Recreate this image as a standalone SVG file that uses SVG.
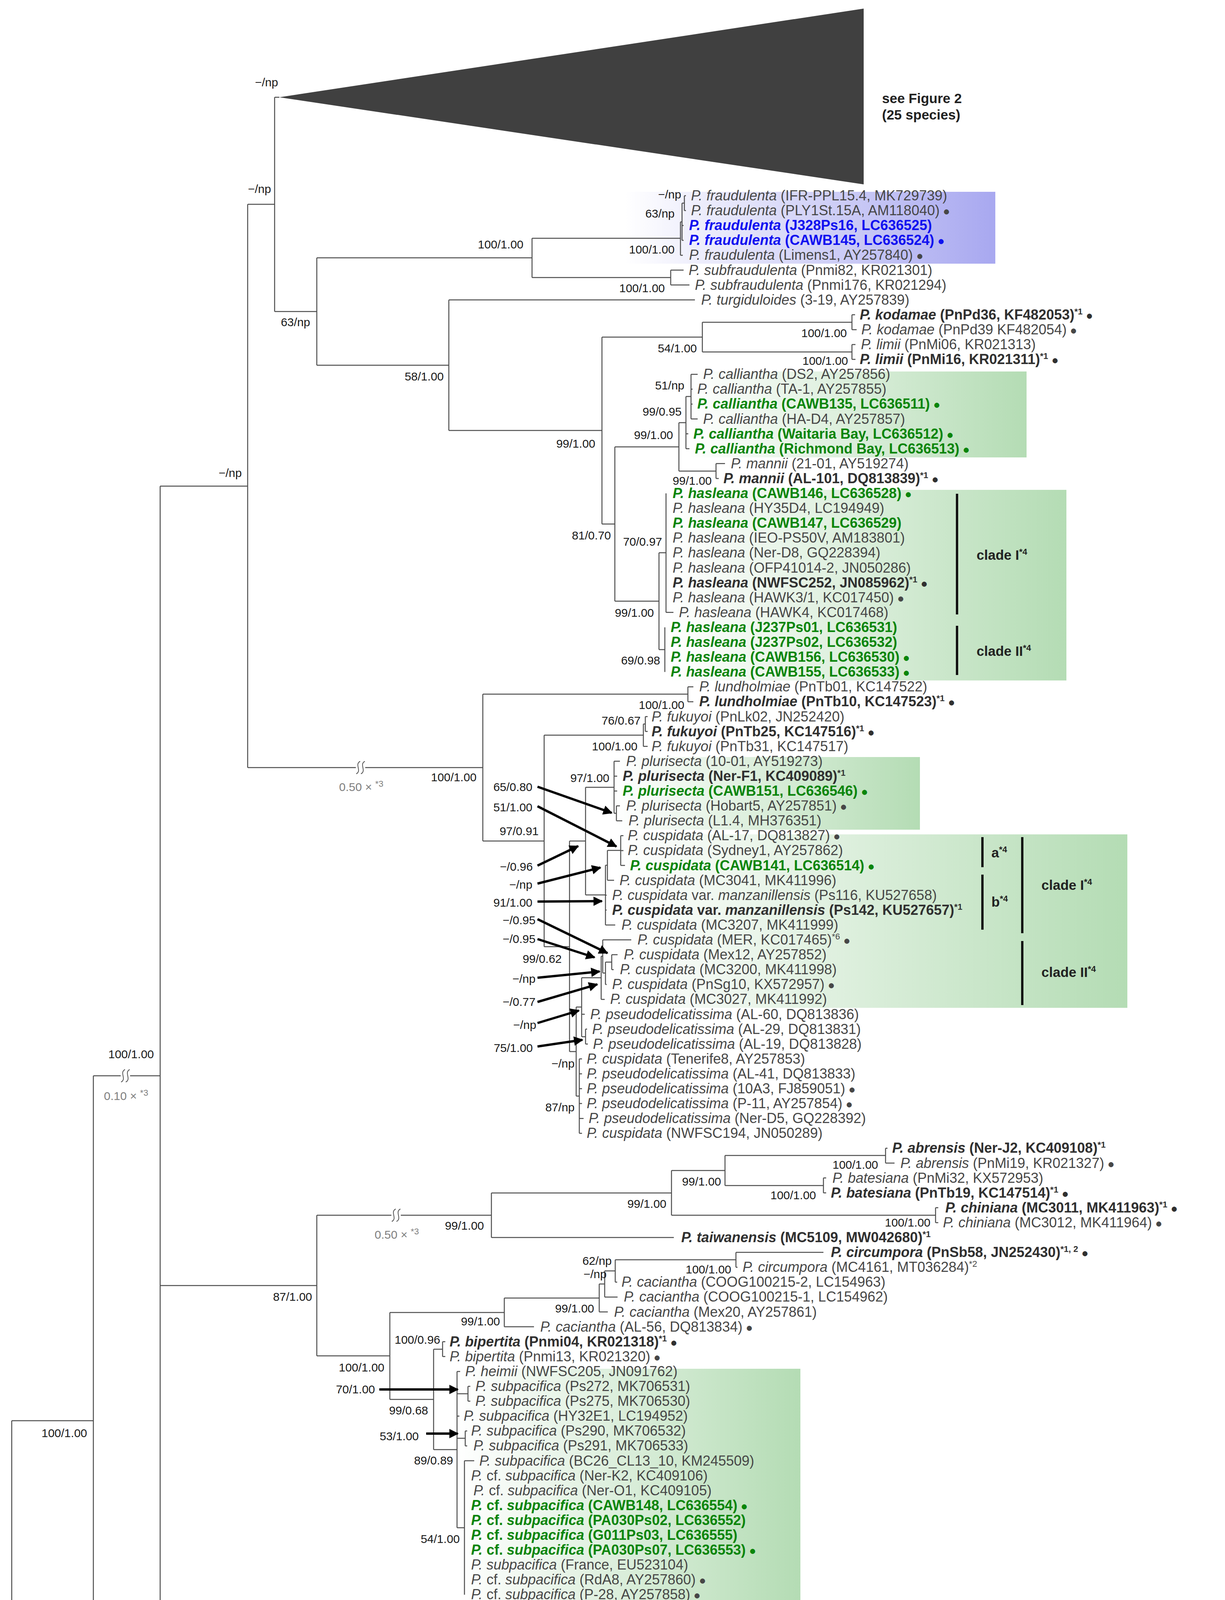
<svg xmlns="http://www.w3.org/2000/svg" width="3136" height="4700" viewBox="0 0 3136 4700">
<defs>
<style>
.tx{font-family:"Liberation Sans",Arial,sans-serif;font-size:36px;fill:#474747}
.bd{font-weight:bold;fill:#303030}
.gr{font-weight:bold;fill:#0a850a}
.bu{font-weight:bold;fill:#1010f0}
.it{font-style:italic}
.sp{font-size:22px}
.d{font-size:30px}
.lb{font-family:"Liberation Sans",Arial,sans-serif;font-size:30px;fill:#1a1a1a;text-anchor:end}
.gy{font-family:"Liberation Sans",Arial,sans-serif;font-size:30px;fill:#808080}
.cl{font-family:"Liberation Sans",Arial,sans-serif;font-size:35px;font-weight:bold;fill:#222}
.br{fill:none;stroke:#4d4d4d;stroke-width:2.5}
.bk{fill:none;stroke:#555;stroke-width:2}
.bar{stroke:#111;stroke-width:6}
.ar{stroke:#000;stroke-width:6;marker-end:url(#ah)}
</style>
<linearGradient id="gg" x1="0" y1="0" x2="1" y2="0"><stop offset="0" stop-color="#ffffff"/><stop offset="1" stop-color="#b4dcb4"/></linearGradient>
<linearGradient id="gb" x1="0" y1="0" x2="1" y2="0"><stop offset="0" stop-color="#ffffff"/><stop offset="1" stop-color="#a8a8f0"/></linearGradient>
<marker id="ah" viewBox="0 0 10 10" refX="9" refY="5" markerWidth="5" markerHeight="4" orient="auto" markerUnits="strokeWidth"><path d="M0,0 L10,5 L0,10 z" fill="#000"/></marker>
</defs>
<rect width="3136" height="4700" fill="#fff"/>
<g id="shading">
<rect x="1600" y="491" width="948" height="184" fill="url(#gb)"/>
<rect x="1760" y="951" width="868" height="220" fill="url(#gg)"/>
<rect x="1704" y="1254" width="1026" height="488" fill="url(#gg)"/>
<rect x="1572" y="1938" width="783" height="186" fill="url(#gg)"/>
<rect x="1575" y="2136" width="1311" height="444" fill="url(#gg)"/>
<rect x="1172" y="3504" width="877" height="602" fill="url(#gg)"/>
</g>
<g id="collapsed">
<polygon points="715,249 2211,22 2211,472" fill="#404040"/>
<text class="cl" x="2258" y="264">see Figure 2</text>
<text class="cl" x="2258" y="306">(25 species)</text>
</g>
<g id="connectors">
<path class="br" d="M703,249H715M703,249V797.5M703,797.5H811M811,660V935M811,660H1362M1362,610V710.6M1362,610H1742M1742,568V653.4M1742,568H1746M1742,653.4H1748M1746,520V615.3M1746,520H1752M1746,577.2H1750M1746,615.3H1750M1752,501V539.1M1752,501H1756M1752,539.1H1756M1362,710.6H1717M1717,691.5V729.6M1717,691.5H1750M1717,729.6H1765"/>
<path class="br" d="M811,935H1149M1149,767.7V1102M1149,767.7H1779M1149,1102H1541M1541,863V1341.5M1541,863H1798M1798,825V901M1798,825H2181M2181,805.8V843.9M2181,805.8H2189M2181,843.9H2193M1798,901H2181M2181,882V920.1M2181,882H2190M2181,920.1H2190"/>
<path class="br" d="M1541,1341.5H1574M1574,1144V1539M1574,1144H1738M1738,1082V1206M1738,1082H1756M1756,1015V1148.7M1756,1015H1769M1769,958.2V1072.5M1769,958.2H1786M1769,996.3H1773M1769,1034.4H1773M1769,1072.5H1786M1756,1110.6H1762M1756,1148.7H1765M1738,1206H1833M1833,1186.8V1224.9M1833,1186.8H1856M1833,1224.9H1840"/>
<path class="br" d="M1574,1539H1687M1687,1415V1663M1687,1415H1705M1705,1263V1567.8M1705,1567.8H1724M1687,1663H1702M1702,1605.9V1720.2"/>
<path class="br" d="M634,523V1965M634,523H703M634,1965H1236M1236,1777V2153M1236,1777H1761M1761,1758.3V1796.4M1761,1758.3H1775M1761,1796.4H1775M1236,2153H1393M1393,1882V2423.5M1393,1882H1647M1647,1853.5V1910.7M1647,1853.5H1652M1652,1834.5V1872.6M1652,1834.5H1658M1652,1872.6H1658M1647,1910.7H1658"/>
<path class="br" d="M1393,2423.5H1458M1458,2153V2692M1458,2153H1499M1499,2015.5V2291M1499,2015.5H1572M1572,1948.8V2082M1572,1948.8H1587M1572,1986.9H1580M1572,2025H1580M1572,2082H1578M1578,2063.1V2101.2M1578,2063.1H1587M1578,2101.2H1593M1499,2291H1550M1550,2215V2367.9M1550,2291.7H1553M1550,2329.8H1553M1550,2367.9H1575M1550,2215H1555M1555,2177V2253.6M1555,2253.6H1572M1555,2177H1589M1589,2139.3V2215.5M1589,2139.3H1596M1589,2177.4H1596M1589,2215.5H1600"/>
<path class="br" d="M1458,2692H1475M1475,2578V2806M1475,2578H1489M1489,2503V2654M1489,2596.5H1497M1489,2654H1499M1499,2634.6V2672.7M1499,2634.6H1503M1499,2672.7H1505M1489,2503H1539M1539,2448V2558.4M1539,2558.4H1548M1539,2448H1543M1543,2406V2491M1543,2406H1616M1543,2491H1550M1550,2463V2520.3M1550,2520.3H1553M1550,2463H1566M1566,2444.1V2482.2M1566,2444.1H1581M1566,2482.2H1571M1475,2806H1483M1483,2710.8V2901.3M1483,2710.8H1490M1483,2748.9H1490M1483,2787H1490M1483,2825.1H1490M1483,2863.2H1494M1483,2901.3H1490"/>
<path class="br" d="M410,1244.5V4263.5M410,1244.5H634M410,3291H811M811,3111V3471M811,3111H1258M1258,3054V3168M1258,3168H1725M1258,3054H1719M1719,2996.5V3111M1719,2996.5H1856M1856,2958V3035M1856,2958H2267M2267,2939.4V2977.5M2267,2939.4H2272M2267,2977.5H2290M1856,3035H2108M2108,3015.6V3053.7M2108,3015.6H2115M2108,3053.7H2115M1719,3111H2395M2395,3091.8V3129.9M2395,3091.8H2402M2395,3129.9H2402"/>
<path class="br" d="M811,3471H998M998,3360V3582.5M998,3360H1291M1291,3323V3396.6M1291,3396.6H1367M1291,3323H1534M1534,3287V3358.5M1534,3358.5H1556M1534,3287H1548M1548,3253.5V3320.4M1548,3320.4H1581M1548,3253.5H1575M1575,3225V3282.3M1575,3282.3H1580M1575,3225H1884M1884,3206.1V3244.2M1884,3206.1H2108M1884,3244.2H1888"/>
<path class="br" d="M998,3582.5H1110M1110,3454V3711M1110,3454H1133M1133,3434.7V3472.8M1133,3434.7H1140M1133,3472.8H1140M1110,3711H1170M1170,3510.9V3911M1170,3510.9H1178M1170,3568H1198M1198,3549V3587.1M1198,3549H1204M1198,3587.1H1204M1170,3625.2H1176M1170,3682H1191M1191,3663.3V3701.4M1191,3663.3H1196M1191,3701.4H1196M1170,3911H1189M1189,3739.5V4082.4M1189,3739.5H1214"/>
<path class="br" d="M410,4263.5H1777M1777,4178V4349M1777,4178H2071M2071,4139.5V4216M2071,4139.5H2144M2144,4120.5V4158.6M2144,4120.5H2148M2144,4158.6H2148M2071,4216H2168M2168,4196.7V4234.8M2168,4196.7H2180M2168,4234.8H2176M1777,4349H1837M1837,4292V4406M1837,4292H2133M2133,4272.9V4311M2133,4272.9H2148M2133,4311H2138M1837,4406H1935M1935,4368V4444M1935,4368H2032M2032,4349.1V4387.2M2032,4349.1H2036M2032,4387.2H2036M1935,4444H1997M1997,4425.3V4463.4M1997,4425.3H2000M1997,4463.4H2004"/>
<path class="br" d="M239,2754V4520.5M239,2754H410M239,4520.5H866M866,4501.5V4539.6M866,4501.5H872M866,4539.6H872M30,3637V4597M30,3637H239M30,4597H2250M2250,4577.7V4615.8M2250,4577.7H2350M2250,4615.8H2370"/>
<g id="breaks">
<rect x="911" y="1961" width="24" height="8" fill="#fff"/>
<path class="bk" d="M922,1949C907,1957 927,1973 912,1981M934,1949C919,1957 939,1973 924,1981"/>
<rect x="309" y="2750" width="24" height="8" fill="#fff"/>
<path class="bk" d="M320,2738C305,2746 325,2762 310,2770M332,2738C317,2746 337,2762 322,2770"/>
<rect x="1002" y="3107" width="24" height="8" fill="#fff"/>
<path class="bk" d="M1013,3095C998,3103 1018,3119 1003,3127M1025,3095C1010,3103 1030,3119 1015,3127"/>
</g>
<g id="arrows">
<line class="ar" x1="1376" y1="2014" x2="1566" y2="2081"/>
<line class="ar" x1="1376" y1="2064" x2="1578" y2="2167"/>
<line class="ar" x1="1376" y1="2216" x2="1480" y2="2166"/>
<line class="ar" x1="1376" y1="2262" x2="1537" y2="2221"/>
<line class="ar" x1="1376" y1="2308" x2="1541" y2="2307"/>
<line class="ar" x1="1376" y1="2353" x2="1555" y2="2440"/>
<line class="ar" x1="1376" y1="2404" x2="1522" y2="2451"/>
<line class="ar" x1="1376" y1="2503" x2="1535" y2="2487"/>
<line class="ar" x1="1376" y1="2565" x2="1529" y2="2520"/>
<line class="ar" x1="1376" y1="2619" x2="1482" y2="2587"/>
<line class="ar" x1="1376" y1="2679" x2="1491" y2="2662"/>
<line class="ar" x1="971" y1="3557" x2="1172" y2="3557"/>
<line class="ar" x1="1091" y1="3670" x2="1172" y2="3670"/>
</g>
<g id="cladebars">
<line class="bar" x1="2450" y1="1264" x2="2450" y2="1573"/>
<line class="bar" x1="2450" y1="1602" x2="2450" y2="1728"/>
<line class="bar" x1="2515" y1="2143" x2="2515" y2="2220"/>
<line class="bar" x1="2515" y1="2239" x2="2515" y2="2380"/>
<line class="bar" x1="2617" y1="2143" x2="2617" y2="2389"/>
<line class="bar" x1="2617" y1="2409" x2="2617" y2="2573"/>
<line class="bar" x1="2651" y1="4345" x2="2651" y2="4410"/>
<line class="bar" x1="2651" y1="4423" x2="2651" y2="4488"/>
</g>
<g id="scalebar">
<path d="M30,4647H640M30,4635V4659M640,4635V4659" fill="none" stroke="#666" stroke-width="4"/>
<text class="gy" x="335" y="4695" text-anchor="middle" style="fill:#333">0.2</text>
</g>
</g>
<g id="cladelabels">
<text class="cl" x="2500" y="1433">clade I<tspan class="sp" dy="-13">*4</tspan></text>
<text class="cl" x="2500" y="1679">clade II<tspan class="sp" dy="-13">*4</tspan></text>
<text class="cl" x="2538" y="2195">a<tspan class="sp" dy="-13">*4</tspan></text>
<text class="cl" x="2538" y="2321">b<tspan class="sp" dy="-13">*4</tspan></text>
<text class="cl" x="2666" y="2278">clade I<tspan class="sp" dy="-13">*4</tspan></text>
<text class="cl" x="2666" y="2501">clade II<tspan class="sp" dy="-13">*4</tspan></text>
<text class="cl" x="2699" y="4394">subclade I<tspan class="sp" dy="-13">*5</tspan></text>
<text class="cl" x="2699" y="4472">subclade II<tspan class="sp" dy="-13">*5</tspan></text>
</g>
<g id="supports">
<text class="lb" x="712" y="221">&#8722;/np</text>
<text class="lb" x="694" y="494">&#8722;/np</text>
<text class="lb" x="794" y="835">63/np</text>
<text class="lb" x="619" y="1221">&#8722;/np</text>
<text class="lb" x="1340" y="636">100/1.00</text>
<text class="lb" x="1136" y="974">58/1.00</text>
<text class="lb" x="1524" y="1146">99/1.00</text>
<text class="lb" x="1784" y="902">54/1.00</text>
<text class="lb" x="2168" y="863">100/1.00</text>
<text class="lb" x="2171" y="934">100/1.00</text>
<text class="lb" x="1744" y="508">&#8722;/np</text>
<text class="lb" x="1727" y="557">63/np</text>
<text class="lb" x="1727" y="649">100/1.00</text>
<text class="lb" x="1702" y="748">100/1.00</text>
<text class="lb" x="1752" y="997">51/np</text>
<text class="lb" x="1745" y="1064">99/0.95</text>
<text class="lb" x="1723" y="1124">99/1.00</text>
<text class="lb" x="1822" y="1241">99/1.00</text>
<text class="lb" x="1564" y="1381">81/0.70</text>
<text class="lb" x="1695" y="1397">70/0.97</text>
<text class="lb" x="1674" y="1579">99/1.00</text>
<text class="lb" x="1690" y="1701">69/0.98</text>
<text class="lb" x="1220" y="2000">100/1.00</text>
<text class="gy" x="868" y="2025">0.50 × <tspan class="sp" dy="-11">*3</tspan></text>
<text class="lb" x="1752" y="1815">100/1.00</text>
<text class="lb" x="1640" y="1855">76/0.67</text>
<text class="lb" x="1632" y="1921">100/1.00</text>
<text class="lb" x="1560" y="2002">97/1.00</text>
<text class="lb" x="1363" y="2025">65/0.80</text>
<text class="lb" x="1363" y="2077">51/1.00</text>
<text class="lb" x="1379" y="2138">97/0.91</text>
<text class="lb" x="1364" y="2229">&#8722;/0.96</text>
<text class="lb" x="1363" y="2275">&#8722;/np</text>
<text class="lb" x="1363" y="2321">91/1.00</text>
<text class="lb" x="1371" y="2366">&#8722;/0.95</text>
<text class="lb" x="1371" y="2414">&#8722;/0.95</text>
<text class="lb" x="1438" y="2465">99/0.62</text>
<text class="lb" x="1371" y="2516">&#8722;/np</text>
<text class="lb" x="1371" y="2575">&#8722;/0.77</text>
<text class="lb" x="1373" y="2634">&#8722;/np</text>
<text class="lb" x="1364" y="2693">75/1.00</text>
<text class="lb" x="1471" y="2733">&#8722;/np</text>
<text class="lb" x="1471" y="2845">87/np</text>
<text class="lb" x="394" y="2709">100/1.00</text>
<text class="gy" x="266" y="2816">0.10 × <tspan class="sp" dy="-11">*3</tspan></text>
<text class="lb" x="223" y="3679">100/1.00</text>
<text class="lb" x="799" y="3330">87/1.00</text>
<text class="gy" x="959" y="3171">0.50 × <tspan class="sp" dy="-11">*3</tspan></text>
<text class="lb" x="1239" y="3148">99/1.00</text>
<text class="lb" x="1706" y="3092">99/1.00</text>
<text class="lb" x="1846" y="3035">99/1.00</text>
<text class="lb" x="2248" y="2992">100/1.00</text>
<text class="lb" x="2089" y="3070">100/1.00</text>
<text class="lb" x="2382" y="3140">100/1.00</text>
<text class="lb" x="1566" y="3238">62/np</text>
<text class="lb" x="1553" y="3272">&#8722;/np</text>
<text class="lb" x="1872" y="3260">100/1.00</text>
<text class="lb" x="1521" y="3360">99/1.00</text>
<text class="lb" x="1280" y="3393">99/1.00</text>
<text class="lb" x="984" y="3511">100/1.00</text>
<text class="lb" x="1127" y="3440">100/0.96</text>
<text class="lb" x="1096" y="3621">99/0.68</text>
<text class="lb" x="960" y="3567">70/1.00</text>
<text class="lb" x="1072" y="3687">53/1.00</text>
<text class="lb" x="1160" y="3749">89/0.89</text>
<text class="lb" x="1177" y="3950">54/1.00</text>
<text class="lb" x="1770" y="4303">100/1.00</text>
<text class="lb" x="2056" y="4210">100/1.00</text>
<text class="lb" x="2131" y="4133">78/1.00</text>
<text class="lb" x="2156" y="4255">100/1.00</text>
<text class="lb" x="1824" y="4388">85/0.79</text>
<text class="lb" x="2121" y="4328">100/1.00</text>
<text class="lb" x="1924" y="4443">99/1.00</text>
<text class="lb" x="2019" y="4358">99/1.00</text>
<text class="lb" x="1986" y="4483">99/1.00</text>
<text class="lb" x="860" y="4566">100/1.00</text>
<text class="lb" x="2240" y="4646">1.00</text>
</g>
<g id="taxa">
<g id="L1"><text class="tx" x="1769" y="513"><tspan class="it">P. fraudulenta</tspan> (IFR-PPL15.4, MK729739)</text></g>
<g id="L2"><text class="tx" x="1769" y="551"><tspan class="it">P. fraudulenta</tspan> (PLY1St.15A, AM118040)<tspan class="d"> ●</tspan></text></g>
<g id="L3"><text class="tx bu" x="1764" y="589"><tspan class="it">P. fraudulenta</tspan> (J328Ps16, LC636525)</text></g>
<g id="L4"><text class="tx bu" x="1764" y="627"><tspan class="it">P. fraudulenta</tspan> (CAWB145, LC636524)<tspan class="d"> ●</tspan></text></g>
<g id="L5"><text class="tx" x="1764" y="665"><tspan class="it">P. fraudulenta</tspan> (Limens1, AY257840)<tspan class="d"> ●</tspan></text></g>
<g id="L6"><text class="tx" x="1763" y="704"><tspan class="it">P. subfraudulenta</tspan> (Pnmi82, KR021301)</text></g>
<g id="L7"><text class="tx" x="1779" y="742"><tspan class="it">P. subfraudulenta</tspan> (Pnmi176, KR021294)</text></g>
<g id="L8"><text class="tx" x="1795" y="780"><tspan class="it">P. turgiduloides</tspan> (3-19, AY257839)</text></g>
<g id="L9"><text class="tx bd" x="2201" y="818"><tspan class="it">P. kodamae</tspan> (PnPd36, KF482053)<tspan class="sp" dy="-13">*1</tspan><tspan class="d" dy="13"> ●</tspan></text></g>
<g id="L10"><text class="tx" x="2205" y="856"><tspan class="it">P. kodamae</tspan> (PnPd39 KF482054)<tspan class="d"> ●</tspan></text></g>
<g id="L11"><text class="tx" x="2204" y="894"><tspan class="it">P. limii</tspan> (PnMi06, KR021313)</text></g>
<g id="L12"><text class="tx bd" x="2201" y="932"><tspan class="it">P. limii</tspan> (PnMi16, KR021311)<tspan class="sp" dy="-13">*1</tspan><tspan class="d" dy="13"> ●</tspan></text></g>
<g id="L13"><text class="tx" x="1800" y="970"><tspan class="it">P. calliantha</tspan> (DS2, AY257856)</text></g>
<g id="L14"><text class="tx" x="1785" y="1008"><tspan class="it">P. calliantha</tspan> (TA-1, AY257855)</text></g>
<g id="L15"><text class="tx gr" x="1785" y="1046"><tspan class="it">P. calliantha</tspan> (CAWB135, LC636511)<tspan class="d"> ●</tspan></text></g>
<g id="L16"><text class="tx" x="1800" y="1085"><tspan class="it">P. calliantha</tspan> (HA-D4, AY257857)</text></g>
<g id="L17"><text class="tx gr" x="1775" y="1123"><tspan class="it">P. calliantha</tspan> (Waitaria Bay, LC636512)<tspan class="d"> ●</tspan></text></g>
<g id="L18"><text class="tx gr" x="1779" y="1161"><tspan class="it">P. calliantha</tspan> (Richmond Bay, LC636513)<tspan class="d"> ●</tspan></text></g>
<g id="L19"><text class="tx" x="1871" y="1199"><tspan class="it">P. mannii</tspan> (21-01, AY519274)</text></g>
<g id="L20"><text class="tx bd" x="1852" y="1237"><tspan class="it">P. mannii</tspan> (AL-101, DQ813839)<tspan class="sp" dy="-13">*1</tspan><tspan class="d" dy="13"> ●</tspan></text></g>
<g id="L21"><text class="tx gr" x="1722" y="1275"><tspan class="it">P. hasleana</tspan> (CAWB146, LC636528)<tspan class="d"> ●</tspan></text></g>
<g id="L22"><text class="tx" x="1722" y="1313"><tspan class="it">P. hasleana</tspan> (HY35D4, LC194949)</text></g>
<g id="L23"><text class="tx gr" x="1722" y="1351"><tspan class="it">P. hasleana</tspan> (CAWB147, LC636529)</text></g>
<g id="L24"><text class="tx" x="1722" y="1389"><tspan class="it">P. hasleana</tspan> (IEO-PS50V, AM183801)</text></g>
<g id="L25"><text class="tx" x="1722" y="1427"><tspan class="it">P. hasleana</tspan> (Ner-D8, GQ228394)</text></g>
<g id="L26"><text class="tx" x="1722" y="1466"><tspan class="it">P. hasleana</tspan> (OFP41014-2, JN050286)</text></g>
<g id="L27"><text class="tx bd" x="1722" y="1504"><tspan class="it">P. hasleana</tspan> (NWFSC252, JN085962)<tspan class="sp" dy="-13">*1</tspan><tspan class="d" dy="13"> ●</tspan></text></g>
<g id="L28"><text class="tx" x="1722" y="1542"><tspan class="it">P. hasleana</tspan> (HAWK3/1, KC017450)<tspan class="d"> ●</tspan></text></g>
<g id="L29"><text class="tx" x="1738" y="1580"><tspan class="it">P. hasleana</tspan> (HAWK4, KC017468)</text></g>
<g id="L30"><text class="tx gr" x="1717" y="1618"><tspan class="it">P. hasleana</tspan> (J237Ps01, LC636531)</text></g>
<g id="L31"><text class="tx gr" x="1717" y="1656"><tspan class="it">P. hasleana</tspan> (J237Ps02, LC636532)</text></g>
<g id="L32"><text class="tx gr" x="1717" y="1694"><tspan class="it">P. hasleana</tspan> (CAWB156, LC636530)<tspan class="d"> ●</tspan></text></g>
<g id="L33"><text class="tx gr" x="1717" y="1732"><tspan class="it">P. hasleana</tspan> (CAWB155, LC636533)<tspan class="d"> ●</tspan></text></g>
<g id="L34"><text class="tx" x="1790" y="1770"><tspan class="it">P. lundholmiae</tspan> (PnTb01, KC147522)</text></g>
<g id="L35"><text class="tx bd" x="1790" y="1808"><tspan class="it">P. lundholmiae</tspan> (PnTb10, KC147523)<tspan class="sp" dy="-13">*1</tspan><tspan class="d" dy="13"> ●</tspan></text></g>
<g id="L36"><text class="tx" x="1668" y="1847"><tspan class="it">P. fukuyoi</tspan> (PnLk02, JN252420)</text></g>
<g id="L37"><text class="tx bd" x="1668" y="1885"><tspan class="it">P. fukuyoi</tspan> (PnTb25, KC147516)<tspan class="sp" dy="-13">*1</tspan><tspan class="d" dy="13"> ●</tspan></text></g>
<g id="L38"><text class="tx" x="1668" y="1923"><tspan class="it">P. fukuyoi</tspan> (PnTb31, KC147517)</text></g>
<g id="L39"><text class="tx" x="1603" y="1961"><tspan class="it">P. plurisecta</tspan> (10-01, AY519273)</text></g>
<g id="L40"><text class="tx bd" x="1594" y="1999"><tspan class="it">P. plurisecta</tspan> (Ner-F1, KC409089)<tspan class="sp" dy="-13">*1</tspan></text></g>
<g id="L41"><text class="tx gr" x="1594" y="2037"><tspan class="it">P. plurisecta</tspan> (CAWB151, LC636546)<tspan class="d"> ●</tspan></text></g>
<g id="L42"><text class="tx" x="1603" y="2075"><tspan class="it">P. plurisecta</tspan> (Hobart5, AY257851)<tspan class="d"> ●</tspan></text></g>
<g id="L43"><text class="tx" x="1609" y="2113"><tspan class="it">P. plurisecta</tspan> (L1.4, MH376351)</text></g>
<g id="L44"><text class="tx" x="1607" y="2151"><tspan class="it">P. cuspidata</tspan> (AL-17, DQ813827)<tspan class="d"> ●</tspan></text></g>
<g id="L45"><text class="tx" x="1607" y="2189"><tspan class="it">P. cuspidata</tspan> (Sydney1, AY257862)</text></g>
<g id="L46"><text class="tx gr" x="1613" y="2228"><tspan class="it">P. cuspidata</tspan> (CAWB141, LC636514)<tspan class="d"> ●</tspan></text></g>
<g id="L47"><text class="tx" x="1586" y="2266"><tspan class="it">P. cuspidata</tspan> (MC3041, MK411996)</text></g>
<g id="L48"><text class="tx" x="1567" y="2304"><tspan class="it">P. cuspidata</tspan> var. <tspan class="it">manzanillensis</tspan> (Ps116, KU527658)</text></g>
<g id="L49"><text class="tx bd" x="1567" y="2342"><tspan class="it">P. cuspidata</tspan> var. <tspan class="it">manzanillensis</tspan> (Ps142, KU527657)<tspan class="sp" dy="-13">*1</tspan></text></g>
<g id="L50"><text class="tx" x="1591" y="2380"><tspan class="it">P. cuspidata</tspan> (MC3207, MK411999)</text></g>
<g id="L51"><text class="tx" x="1632" y="2418"><tspan class="it">P. cuspidata</tspan> (MER, KC017465)<tspan class="sp" dy="-13">*6</tspan><tspan class="d" dy="13"> ●</tspan></text></g>
<g id="L52"><text class="tx" x="1597" y="2456"><tspan class="it">P. cuspidata</tspan> (Mex12, AY257852)</text></g>
<g id="L53"><text class="tx" x="1587" y="2494"><tspan class="it">P. cuspidata</tspan> (MC3200, MK411998)</text></g>
<g id="L54"><text class="tx" x="1567" y="2532"><tspan class="it">P. cuspidata</tspan> (PnSg10, KX572957)<tspan class="d"> ●</tspan></text></g>
<g id="L55"><text class="tx" x="1562" y="2570"><tspan class="it">P. cuspidata</tspan> (MC3027, MK411992)</text></g>
<g id="L56"><text class="tx" x="1511" y="2609"><tspan class="it">P. pseudodelicatissima</tspan> (AL-60, DQ813836)</text></g>
<g id="L57"><text class="tx" x="1516" y="2647"><tspan class="it">P. pseudodelicatissima</tspan> (AL-29, DQ813831)</text></g>
<g id="L58"><text class="tx" x="1518" y="2685"><tspan class="it">P. pseudodelicatissima</tspan> (AL-19, DQ813828)</text></g>
<g id="L59"><text class="tx" x="1502" y="2723"><tspan class="it">P. cuspidata</tspan> (Tenerife8, AY257853)</text></g>
<g id="L60"><text class="tx" x="1502" y="2761"><tspan class="it">P. pseudodelicatissima</tspan> (AL-41, DQ813833)</text></g>
<g id="L61"><text class="tx" x="1502" y="2799"><tspan class="it">P. pseudodelicatissima</tspan> (10A3, FJ859051)<tspan class="d"> ●</tspan></text></g>
<g id="L62"><text class="tx" x="1502" y="2837"><tspan class="it">P. pseudodelicatissima</tspan> (P-11, AY257854)<tspan class="d"> ●</tspan></text></g>
<g id="L63"><text class="tx" x="1507" y="2875"><tspan class="it">P. pseudodelicatissima</tspan> (Ner-D5, GQ228392)</text></g>
<g id="L64"><text class="tx" x="1502" y="2913"><tspan class="it">P. cuspidata</tspan> (NWFSC194, JN050289)</text></g>
<g id="L65"><text class="tx bd" x="2284" y="2951"><tspan class="it">P. abrensis</tspan> (Ner-J2, KC409108)<tspan class="sp" dy="-13">*1</tspan></text></g>
<g id="L66"><text class="tx" x="2305" y="2990"><tspan class="it">P. abrensis</tspan> (PnMi19, KR021327)<tspan class="d"> ●</tspan></text></g>
<g id="L67"><text class="tx" x="2131" y="3028"><tspan class="it">P. batesiana</tspan> (PnMi32, KX572953)</text></g>
<g id="L68"><text class="tx bd" x="2127" y="3066"><tspan class="it">P. batesiana</tspan> (PnTb19, KC147514)<tspan class="sp" dy="-13">*1</tspan><tspan class="d" dy="13"> ●</tspan></text></g>
<g id="L69"><text class="tx bd" x="2420" y="3104"><tspan class="it">P. chiniana</tspan> (MC3011, MK411963)<tspan class="sp" dy="-13">*1</tspan><tspan class="d" dy="13"> ●</tspan></text></g>
<g id="L70"><text class="tx" x="2414" y="3142"><tspan class="it">P. chiniana</tspan> (MC3012, MK411964)<tspan class="d"> ●</tspan></text></g>
<g id="L71"><text class="tx bd" x="1744" y="3180"><tspan class="it">P. taiwanensis</tspan> (MC5109, MW042680)<tspan class="sp" dy="-13">*1</tspan></text></g>
<g id="L72"><text class="tx bd" x="2127" y="3218"><tspan class="it">P. circumpora</tspan> (PnSb58, JN252430)<tspan class="sp" dy="-13">*1, 2</tspan><tspan class="d" dy="13"> ●</tspan></text></g>
<g id="L73"><text class="tx" x="1901" y="3256"><tspan class="it">P. circumpora</tspan> (MC4161, MT036284)<tspan class="sp" dy="-13">*2</tspan></text></g>
<g id="L74"><text class="tx" x="1591" y="3294"><tspan class="it">P. caciantha</tspan> (COOG100215-2, LC154963)</text></g>
<g id="L75"><text class="tx" x="1597" y="3332"><tspan class="it">P. caciantha</tspan> (COOG100215-1, LC154962)</text></g>
<g id="L76"><text class="tx" x="1572" y="3371"><tspan class="it">P. caciantha</tspan> (Mex20, AY257861)</text></g>
<g id="L77"><text class="tx" x="1383" y="3409"><tspan class="it">P. caciantha</tspan> (AL-56, DQ813834)<tspan class="d"> ●</tspan></text></g>
<g id="L78"><text class="tx bd" x="1151" y="3447"><tspan class="it">P. bipertita</tspan> (Pnmi04, KR021318)<tspan class="sp" dy="-13">*1</tspan><tspan class="d" dy="13"> ●</tspan></text></g>
<g id="L79"><text class="tx" x="1151" y="3485"><tspan class="it">P. bipertita</tspan> (Pnmi13, KR021320)<tspan class="d"> ●</tspan></text></g>
<g id="L80"><text class="tx" x="1191" y="3523"><tspan class="it">P. heimii</tspan> (NWFSC205, JN091762)</text></g>
<g id="L81"><text class="tx" x="1217" y="3561"><tspan class="it">P. subpacifica</tspan> (Ps272, MK706531)</text></g>
<g id="L82"><text class="tx" x="1217" y="3599"><tspan class="it">P. subpacifica</tspan> (Ps275, MK706530)</text></g>
<g id="L83"><text class="tx" x="1187" y="3637"><tspan class="it">P. subpacifica</tspan> (HY32E1, LC194952)</text></g>
<g id="L84"><text class="tx" x="1206" y="3675"><tspan class="it">P. subpacifica</tspan> (Ps290, MK706532)</text></g>
<g id="L85"><text class="tx" x="1212" y="3713"><tspan class="it">P. subpacifica</tspan> (Ps291, MK706533)</text></g>
<g id="L86"><text class="tx" x="1227" y="3752"><tspan class="it">P. subpacifica</tspan> (BC26_CL13_10, KM245509)</text></g>
<g id="L87"><text class="tx" x="1206" y="3790"><tspan class="it">P.</tspan> cf. <tspan class="it">subpacifica</tspan> (Ner-K2, KC409106)</text></g>
<g id="L88"><text class="tx" x="1212" y="3828"><tspan class="it">P.</tspan> cf. <tspan class="it">subpacifica</tspan> (Ner-O1, KC409105)</text></g>
<g id="L89"><text class="tx gr" x="1206" y="3866"><tspan class="it">P.</tspan> cf. <tspan class="it">subpacifica</tspan> (CAWB148, LC636554)<tspan class="d"> ●</tspan></text></g>
<g id="L90"><text class="tx gr" x="1206" y="3904"><tspan class="it">P.</tspan> cf. <tspan class="it">subpacifica</tspan> (PA030Ps02, LC636552)</text></g>
<g id="L91"><text class="tx gr" x="1206" y="3942"><tspan class="it">P.</tspan> cf. <tspan class="it">subpacifica</tspan> (G011Ps03, LC636555)</text></g>
<g id="L92"><text class="tx gr" x="1206" y="3980"><tspan class="it">P.</tspan> cf. <tspan class="it">subpacifica</tspan> (PA030Ps07, LC636553)<tspan class="d"> ●</tspan></text></g>
<g id="L93"><text class="tx" x="1206" y="4018"><tspan class="it">P. subpacifica</tspan> (France, EU523104)</text></g>
<g id="L94"><text class="tx" x="1206" y="4056"><tspan class="it">P.</tspan> cf. <tspan class="it">subpacifica</tspan> (RdA8, AY257860)<tspan class="d"> ●</tspan></text></g>
<g id="L95"><text class="tx" x="1206" y="4094"><tspan class="it">P.</tspan> cf. <tspan class="it">subpacifica</tspan> (P-28, AY257858)<tspan class="d"> ●</tspan></text></g>
<g id="L96"><text class="tx bd" x="2160" y="4133"><tspan class="it">P. bucculenta</tspan> (L1.3, MH376341)<tspan class="sp" dy="-13">*1</tspan></text></g>
<g id="L97"><text class="tx" x="2160" y="4171"><tspan class="it">P. bucculenta</tspan> (L1.16, MH376342)</text></g>
<g id="L98"><text class="tx" x="2196" y="4209"><tspan class="it">P. dolorosa</tspan> (20-02, AY519275)<tspan class="d"> ●</tspan></text></g>
<g id="L99"><text class="tx bd" x="2191" y="4247"><tspan class="it">P. dolorosa</tspan> (300, DQ336153)<tspan class="sp" dy="-13">*</tspan></text></g>
<g id="L100"><text class="tx bd" x="2164" y="4285"><tspan class="it">P. hallegraeffii</tspan> (CTD44_2, MF044023)<tspan class="sp" dy="-13">*1</tspan><tspan class="d" dy="13"> ●</tspan></text></g>
<g id="L101"><text class="tx" x="2149" y="4323"><tspan class="it">P. hallegraeffii</tspan> (MC4457, MT039949)</text></g>
<g id="L102"><text class="tx" x="2047" y="4361"><tspan class="it">P. simulans</tspan> (MC4402, MT040009)</text></g>
<g id="L103"><text class="tx" x="2047" y="4399"><tspan class="it">P. simulans</tspan> (MC984, MF374772)<tspan class="d"> ●</tspan></text></g>
<g id="L104"><text class="tx" x="2011" y="4437"><tspan class="it">P. simulans</tspan> (MC4617, MT040014)</text></g>
<g id="L105"><text class="tx bd" x="2019" y="4475"><tspan class="it">P. simulans</tspan> (MC281, MF374769)<tspan class="sp" dy="-13">*1</tspan><tspan class="d" dy="13"> ●</tspan></text></g>
<g id="L106"><text class="tx bd" x="880" y="4514"><tspan class="it">P. nanaoensis</tspan> (MC4188, MG787881)<tspan class="sp" dy="-13">*1</tspan><tspan class="d" dy="13"> ●</tspan></text></g>
<g id="L107"><text class="tx" x="880" y="4552"><tspan class="it">P. nanaoensis</tspan> (MC4213, MG787882)<tspan class="d"> ●</tspan></text></g>
<g id="L108"><text class="tx" x="2366" y="4590"><tspan class="it">Cylindrotheca closterium</tspan> (CA1_8, MN104082)</text></g>
<g id="L109"><text class="tx" x="2386" y="4628"><tspan class="it">Cylindrotheca closterium</tspan> (OS9B, MH716206)</text></g>
</g>
</svg>
